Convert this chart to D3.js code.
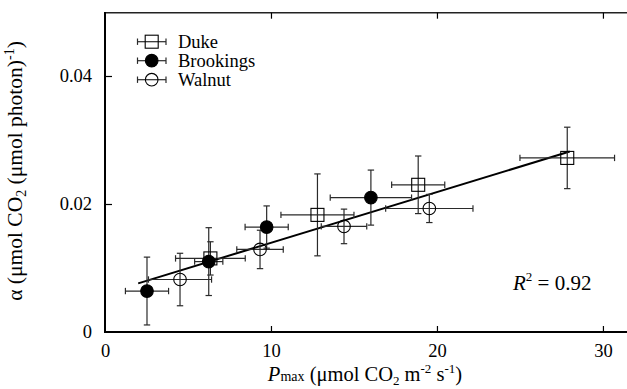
<!DOCTYPE html>
<html><head><meta charset="utf-8">
<script src="https://cdn.jsdelivr.net/npm/d3@7"></script>
<style>
html,body{margin:0;padding:0;background:#fff;}
</style></head>
<body><svg id="c" width="627" height="389"></svg>
<script>
// ---- data ----
const series = ["Duke", "Brookings", "Walnut"];
const dukeX    = [6.35, 12.8, 18.87, 27.85];
const dukeXerr = [2.1, 2.2, 1.6, 2.85];
const dukeY    = [0.0115, 0.0183, 0.0230, 0.0272];
const dukeYerr = [0.0026, 0.0064, 0.0045, 0.0048];
const brookX    = [2.53, 6.25, 9.74, 16.02];
const brookXerr = [1.3, 0.85, 1.3, 2.45];
const brookY    = [0.0064, 0.0110, 0.0164, 0.0210];
const brookYerr = [0.0053, 0.0053, 0.0033, 0.0043];
const walnutX    = [4.52, 9.34, 14.4, 19.54];
const walnutXerr = [1.9, 1.4, 1.37, 2.63];
const walnutY    = [0.0082, 0.0129, 0.0165, 0.0193];
const walnutYerr = [0.0041, 0.0030, 0.0027, 0.0022];
const fitX = [2.0, 28.0];
const fitY = [0.0076, 0.0282];
const xTicks = [0, 10, 20, 30];
const yTicks = [0, 0.02, 0.04];
const yTickLabels = ["0", "0.02", "0.04"];
const r2Text = "0.92";

const FONT = '"Liberation Serif", "Times New Roman", Times, serif';
const svg = d3.select("#c");
const L = 105, R = 627, T = 12.7, B = 332;
const x = d3.scaleLinear().domain([0, 31.45]).range([L, R]);
const y = d3.scaleLinear().domain([0, 0.05]).range([B, 12]);

// frame
svg.append("line").attr("x1", L).attr("x2", R).attr("y1", T).attr("y2", T).attr("stroke", "#222").attr("stroke-width", 1.5);
svg.append("line").attr("x1", L).attr("x2", L).attr("y1", T - 0.7).attr("y2", B + 1).attr("stroke", "#000").attr("stroke-width", 2);
svg.append("line").attr("x1", L - 1).attr("x2", R).attr("y1", B).attr("y2", B).attr("stroke", "#000").attr("stroke-width", 2);

// axes
const xa = svg.append("g").attr("transform", `translate(0,${B})`)
  .call(d3.axisBottom(x).tickValues(xTicks).tickSizeInner(-6).tickSizeOuter(0).tickPadding(12).tickFormat(d3.format("d")));
xa.attr("font-family", FONT).attr("font-size", 18.5);
xa.select(".domain").remove();
xa.selectAll("line").attr("stroke", "#000").attr("stroke-width", 1.2);
xa.selectAll("text").attr("fill", "#000");
xa.selectAll(".tick").filter(d => d === 0).select("line").remove();

const xt = svg.append("g").attr("transform", `translate(0,${T})`)
  .call(d3.axisTop(x).tickValues(xTicks.filter(d => d > 0)).tickSizeInner(-6).tickSizeOuter(0).tickFormat(""));
xt.select(".domain").remove();
xt.selectAll("line").attr("stroke", "#000").attr("stroke-width", 1.2);

const ya = svg.append("g").attr("transform", `translate(${L},0)`)
  .call(d3.axisLeft(y).tickValues(yTicks).tickSizeInner(-7).tickSizeOuter(0).tickPadding(13)
    .tickFormat((d, i) => yTickLabels[i]));
ya.attr("font-family", FONT).attr("font-size", 18.5);
ya.select(".domain").remove();
ya.selectAll("line").attr("stroke", "#000").attr("stroke-width", 1.2);
ya.selectAll("text").attr("fill", "#000");
ya.selectAll(".tick").filter(d => d === 0).select("line").remove();

// regression line
svg.append("path")
  .datum(fitX.map((d, i) => [d, fitY[i]]))
  .attr("d", d3.line().x(d => x(d[0])).y(d => y(d[1])))
  .attr("stroke", "#000").attr("stroke-width", 2).attr("fill", "none");

// data
function pack(xs, xe, ys, ye) { return xs.map((d, i) => ({x: d, xe: xe[i], y: ys[i], ye: ye[i]})); }
const groups = [
  {name: "Duke", shape: "square", fill: "#fff", pts: pack(dukeX, dukeXerr, dukeY, dukeYerr)},
  {name: "Brookings", shape: "circle", fill: "#000", pts: pack(brookX, brookXerr, brookY, brookYerr)},
  {name: "Walnut", shape: "circle", fill: "#fff", pts: pack(walnutX, walnutXerr, walnutY, walnutYerr)}
];
const cap = 3.2, rad = 6.3, half = 6.5;
const ebColor = "#2a2a2a";

function drawErr(g, cx, cy, x0, x1, y0, y1) {
  const ln = (a, b, c, d) => g.append("line").attr("x1", a).attr("y1", b).attr("x2", c).attr("y2", d).attr("stroke", ebColor).attr("stroke-width", 1.2);
  ln(x0, cy, x1, cy); ln(x0, cy - cap, x0, cy + cap); ln(x1, cy - cap, x1, cy + cap);
  if (y0 !== null) { ln(cx, y0, cx, y1); ln(cx - cap, y0, cx + cap, y0); ln(cx - cap, y1, cx + cap, y1); }
}
function drawMarker(g, shape, fill, cx, cy) {
  if (shape === "square") {
    g.append("rect").attr("x", cx - half).attr("y", cy - half).attr("width", 2 * half).attr("height", 2 * half)
      .attr("fill", "none").attr("stroke", "#000").attr("stroke-width", 1.1);
  } else {
    g.append("circle").attr("cx", cx).attr("cy", cy).attr("r", rad)
      .attr("fill", fill === "#000" ? "#000" : "none").attr("stroke", "#000").attr("stroke-width", 1.1);
  }
}
const dg = svg.append("g");
groups.forEach(gr => {
  gr.pts.forEach(p => {
    drawErr(dg, x(p.x), y(p.y), x(p.x - p.xe), x(p.x + p.xe), y(p.y + p.ye), y(p.y - p.ye));
  });
});
groups.forEach(gr => {
  gr.pts.forEach(p => drawMarker(dg, gr.shape, gr.fill, x(p.x), y(p.y)));
});

// legend
const lg = svg.append("g");
series.forEach((s, i) => {
  const gr = groups[i];
  const cy = 41.7 + i * 19;
  drawErr(lg, 151.7, cy, 137.5, 166, null, null);
  drawMarker(lg, gr.shape, gr.fill, 151.7, cy);
  lg.append("text").attr("x", 178).attr("y", cy + 5.8).attr("font-size", 18.5).attr("font-family", FONT).text(s);
});

// R^2
const rt = svg.append("text").attr("x", 513).attr("y", 290).attr("font-size", 21).attr("font-family", FONT);
rt.append("tspan").attr("font-style", "italic").text("R");
rt.append("tspan").attr("font-size", 13).attr("dy", -9).text("2");
rt.append("tspan").attr("dy", 9).text(" = " + r2Text);

// x label
const xl = svg.append("text").attr("x", 365).attr("y", 381).attr("text-anchor", "middle").attr("font-size", 20.5).attr("font-family", FONT);
xl.append("tspan").attr("font-style", "italic").text("P");
xl.append("tspan").attr("font-size", 14).text("max");
xl.append("tspan").text(" (μmol CO");
xl.append("tspan").attr("font-size", 13).attr("dy", 4).text("2");
xl.append("tspan").attr("dy", -4).text(" m");
xl.append("tspan").attr("font-size", 13).attr("dy", -8).text("-2");
xl.append("tspan").attr("dy", 8).text(" s");
xl.append("tspan").attr("font-size", 13).attr("dy", -8).text("-1");
xl.append("tspan").attr("dy", 8).text(")");

// y label
const yl = svg.append("text").attr("transform", "translate(22,171) rotate(-90)").attr("text-anchor", "middle").attr("font-size", 21.5).attr("font-family", FONT);
yl.append("tspan").text("α (μmol CO");
yl.append("tspan").attr("font-size", 14).attr("dy", 4).text("2");
yl.append("tspan").attr("dy", -4).text(" (μmol photon)");
yl.append("tspan").attr("font-size", 14).attr("dy", -8).text("-1");
yl.append("tspan").attr("dy", 8).text(")");
</script></body></html>
